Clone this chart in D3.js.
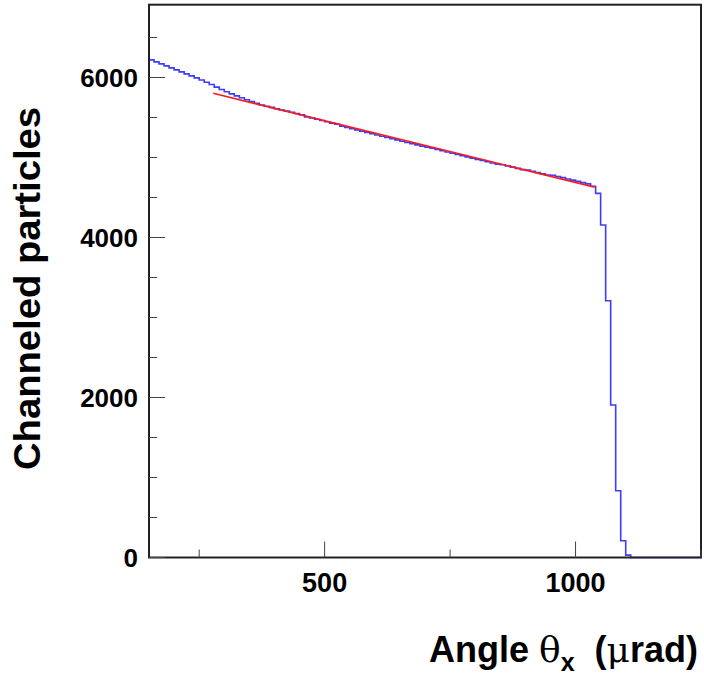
<!DOCTYPE html>
<html>
<head>
<meta charset="utf-8">
<script src="https://cdn.jsdelivr.net/npm/d3@7"></script>
<style>
  body { margin: 0; background: #fff; }
  svg { display: block; }
  text { font-family: "Liberation Sans", Arial, Helvetica, sans-serif; font-weight: bold; fill: #000; }
</style>
</head>
<body>
<svg id="chart" width="704" height="675"></svg>
<script>
// ---- data ----
const binLowEdges = [
  150,160,170,180,190,200,210,220,230,240,250,260,270,280,290,300,310,320,330,340,
  350,360,370,380,390,400,410,420,430,440,450,460,470,480,490,500,510,520,530,540,
  550,560,570,580,590,600,610,620,630,640,650,660,670,680,690,700,710,720,730,740,
  750,760,770,780,790,800,810,820,830,840,850,860,870,880,890,900,910,920,930,940,
  950,960,970,980,990,1000,1010,1020,1030,1040,1050,1060,1070,1080,1090,1100,1110
];
const binWidth = 10;
const counts = [
  6220,6195,6170,6145,6120,6095,6070,6045,6020,5995,5968,5940,5912,5880,5850,5822,5795,5770,5746,5722,
  5700,5678,5657,5640,5626,5610,5594,5580,5565,5550,5534,5508,5493,5478,5462,5446,5430,5415,5392,5376,
  5360,5345,5330,5314,5298,5282,5266,5251,5236,5220,5204,5188,5174,5158,5142,5130,5115,5100,5084,5069,
  5054,5038,5023,5008,4992,4977,4962,4946,4931,4915,4910,4895,4880,4864,4849,4843,4828,4812,4797,4782,
  4778,4763,4748,4732,4717,4701,4686,4670,4640,4552,4156,3210,1906,835,210,30,0
];
const fitX = [278, 1038];
const fitY = [5802, 4630];
const xRange = [150, 1250];
const yRange = [0, 6910];
const xMajorTicks = [500, 1000];
const xMinorTicks = [250, 750, 1250];
const yMajorTicks = [0, 2000, 4000, 6000];
const yMinorTicks = [500, 1000, 1500, 2500, 3000, 3500, 4500, 5000, 5500, 6500];
const xTitle = "Angle ";
const yTitle = "Channeled particles";

// ---- layout ----
const L = 149, R = 701, T = 4.7, B = 557.5;
const svg = d3.select("#chart");
const x = d3.scaleLinear().domain(xRange).range([L, R]);
const y = d3.scaleLinear().domain(yRange).range([B, T]);

// histogram step path
const pts = [[xRange[0], 0]];
binLowEdges.forEach((lo, i) => {
  pts.push([lo, counts[i]]);
  pts.push([lo + binWidth, counts[i]]);
});
pts.push([xRange[1], 0]);
const line = d3.line().x(d => x(d[0])).y(d => y(d[1]));

svg.append("path")
  .attr("d", line(pts))
  .attr("fill", "none")
  .attr("stroke", "#3c3cff")
  .attr("stroke-width", 1.6);

svg.append("path")
  .attr("d", line(fitX.map((v, i) => [v, fitY[i]])))
  .attr("fill", "none")
  .attr("stroke", "#ff1a1a")
  .attr("stroke-width", 1.6);

// frame
svg.append("rect")
  .attr("x", L).attr("y", T).attr("width", R - L).attr("height", B - T)
  .attr("fill", "none").attr("stroke", "#222").attr("stroke-width", 2);

// axes ticks
const g = svg.append("g").attr("stroke", "#444").attr("stroke-width", 1);
xMajorTicks.forEach(v => g.append("line").attr("x1", x(v)).attr("x2", x(v)).attr("y1", B).attr("y2", B - 16));
xMinorTicks.forEach(v => g.append("line").attr("x1", x(v)).attr("x2", x(v)).attr("y1", B).attr("y2", B - 8));
yMajorTicks.forEach(v => g.append("line").attr("x1", L).attr("x2", L + 16).attr("y1", y(v)).attr("y2", y(v)));
yMinorTicks.forEach(v => g.append("line").attr("x1", L).attr("x2", L + 8).attr("y1", y(v)).attr("y2", y(v)));

// tick labels
svg.selectAll(".xl").data(xMajorTicks).enter().append("text")
  .attr("x", d => x(d)).attr("y", 592)
  .attr("text-anchor", "middle").attr("font-size", 27)
  .text(d => d);
svg.selectAll(".yl").data(yMajorTicks).enter().append("text")
  .attr("x", 138).attr("y", d => y(d) + 9)
  .attr("text-anchor", "end").attr("font-size", 26)
  .text(d => d);

// axis titles
const xt = svg.append("text")
  .attr("x", 698).attr("y", 662)
  .attr("text-anchor", "end").attr("font-size", 36)
  .style("white-space", "pre");
xt.append("tspan").text(xTitle);
xt.append("tspan").attr("font-family", "'DejaVu Serif', 'Liberation Serif', serif").attr("font-weight", "normal").text("θ");
xt.append("tspan").attr("font-size", 25).attr("dy", 9).text("x");
xt.append("tspan").attr("dy", -9).text("\u00a0\u00a0(");
xt.append("tspan").attr("font-family", "'DejaVu Serif', 'Liberation Serif', serif").attr("font-weight", "normal").text("μ");
xt.append("tspan").text("rad)");

svg.append("text")
  .attr("transform", "translate(40,107) rotate(-90)")
  .attr("text-anchor", "end").attr("font-size", 36)
  .attr("textLength", 363).attr("lengthAdjust", "spacingAndGlyphs")
  .text(yTitle);
</script>
</body>
</html>
